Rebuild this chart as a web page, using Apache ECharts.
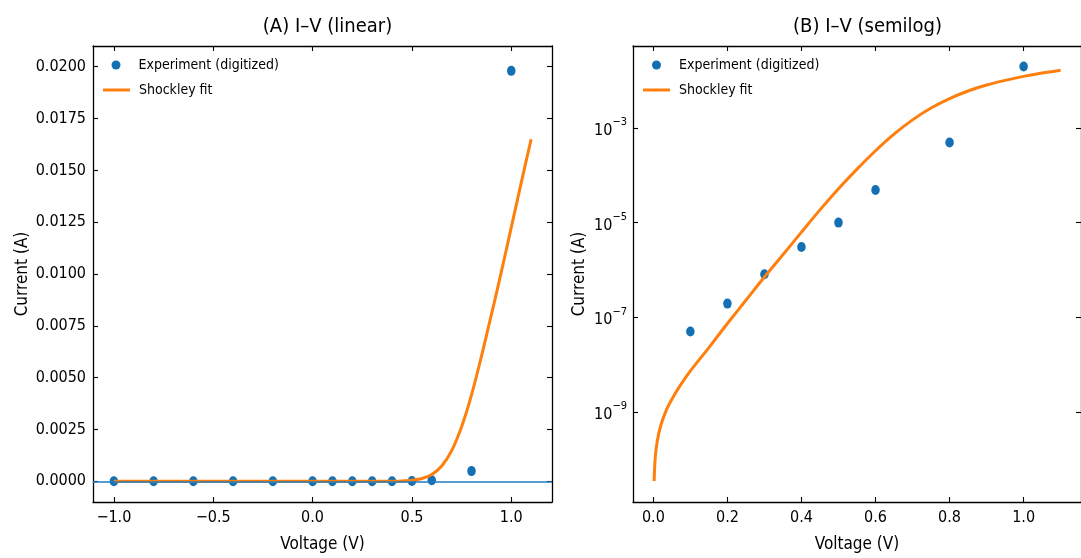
<!DOCTYPE html>
<html>
<head>
<meta charset="utf-8">
<script src="https://cdn.jsdelivr.net/npm/echarts@6/dist/echarts.min.js"></script>
<style>
  html, body { margin: 0; padding: 0; background: #fff; }
  #chart { width: 1081px; height: 558px; }
</style>
</head>
<body>
<div id="chart"></div>
<script>
// ---- data ----
const expV = [-1.0, -0.8, -0.6, -0.4, -0.2, 0.0, 0.1, 0.2, 0.3, 0.4, 0.5, 0.6, 0.8, 1.0];
const expI = [0, 0, 0, 0, 0, 0, 5.0e-8, 1.95e-7, 8.1e-7, 3.05e-6, 1.0e-5, 4.9e-5, 4.9e-4, 0.0198];

const fitV = [-1.0, -0.5, 0.0, 0.002, 0.005, 0.01, 0.02, 0.035, 0.05, 0.07, 0.1, 0.15, 0.2, 0.25,
  0.3, 0.35, 0.4, 0.45, 0.5, 0.55, 0.6, 0.65, 0.7, 0.75, 0.8, 0.85, 0.9, 0.95, 1.0, 1.05, 1.1];
const fitI = [-8e-10, -8e-10, 0, 3.5e-11, 1.07e-10, 2.3e-10, 5.2e-10, 1.1e-9, 1.86e-9, 3.4e-9, 7.4e-9, 2.3e-8, 7.4e-8, 2.3e-7,
  7.1e-7, 2.1e-6, 6.3e-6, 1.86e-5, 5.2e-5, 1.35e-4, 3.3e-4, 7.4e-4, 1.48e-3, 2.63e-3, 4.17e-3, 6.03e-3, 8.04e-3, 1.01e-2, 1.225e-2, 1.44e-2, 1.65e-2];

const linXTicks = [-1.0, -0.5, 0.0, 0.5, 1.0];
const linYTicks = [0, 0.0025, 0.005, 0.0075, 0.01, 0.0125, 0.015, 0.0175, 0.02];
const logXTicks = [0.0, 0.2, 0.4, 0.6, 0.8, 1.0];
const logYTicks = [1e-9, 1e-7, 1e-5, 1e-3];

const titles = ['(A) I\u2013V (linear)', '(B) I\u2013V (semilog)'];
const expName = 'Experiment (digitized)';
const fitName = 'Shockley fit';

// ---- styling ----
const FONT = '"DejaVu Sans Condensed", "DejaVu Sans", sans-serif';
const BLUE = '#1270b3';
const LINEBLUE = '#1f7bbf';
const ORANGE = '#ff7f0e';

const zip = (a, b) => a.map((v, i) => [v, b[i]]);
const linExp = zip(expV, expI);
const linFit = zip(fitV, fitI);
const logExp = linExp.filter(p => p[1] > 0);
const logFit = linFit.filter(p => p[0] > 0 && p[1] > 0);

const minus = s => s.replace('-', '\u2212');

function frameAxis(extra) {
  return Object.assign({
    axisLine: { show: true, onZero: false, lineStyle: { color: '#000', width: 1.3 } },
    splitLine: { show: false },
    nameTextStyle: { color: '#000', fontFamily: FONT, fontSize: 17 }
  }, extra);
}
function ticks(values) {
  return { show: true, inside: true, length: 5, customValues: values, lineStyle: { color: '#000', width: 1.1 } };
}
function labels(values, fmt, margin) {
  return { show: true, customValues: values, formatter: fmt, color: '#000', fontFamily: FONT, fontSize: 16, margin: margin };
}
const noLabels = { show: false };

const chart = echarts.init(document.getElementById('chart'), null, { renderer: 'canvas' });

const legendBase = {
  orient: 'vertical', padding: 0, selectedMode: false,
  textStyle: { color: '#000', fontFamily: FONT, fontSize: 14 }
};
function expLegend(left) {
  return Object.assign({}, legendBase, {
    data: [{ name: expName, icon: 'circle' }], left: left, top: 58, itemWidth: 9, itemHeight: 10,
    textStyle: Object.assign({}, legendBase.textStyle, { padding: [0, 0, 0, 13] })
  });
}
function fitLegend(left) {
  return Object.assign({}, legendBase, {
    data: [{ name: fitName, icon: 'rect' }], left: left, top: 83, itemWidth: 27, itemHeight: 3,
    textStyle: Object.assign({}, legendBase.textStyle, { padding: [0, 0, 0, 4] })
  });
}

chart.setOption({
  animation: false,
  backgroundColor: '#fff',
  title: [
    { text: titles[0], left: 322.5, textAlign: 'center', top: 12,
      textStyle: { fontFamily: FONT, fontSize: 20, fontWeight: 'normal', color: '#000' } },
    { text: titles[1], left: 862.5, textAlign: 'center', top: 12,
      textStyle: { fontFamily: FONT, fontSize: 20, fontWeight: 'normal', color: '#000' } }
  ],
  legend: [expLegend(111.5), fitLegend(103), expLegend(652), fitLegend(643)],
  grid: [
    { left: 93, top: 46, width: 459, height: 458, containLabel: false },
    { left: 633, top: 46, width: 459, height: 458, containLabel: false }
  ],
  xAxis: [
    frameAxis({ type: 'value', gridIndex: 0, position: 'bottom', min: -1.105, max: 1.205,
      axisTick: ticks(linXTicks), axisLabel: labels(linXTicks, v => minus(v.toFixed(1)), 8),
      name: 'Voltage (V)', nameLocation: 'middle', nameGap: 34 }),
    frameAxis({ type: 'value', gridIndex: 0, position: 'top', min: -1.105, max: 1.205,
      axisTick: ticks(linXTicks), axisLabel: noLabels }),
    frameAxis({ type: 'value', gridIndex: 1, position: 'bottom', min: -0.055, max: 1.155,
      axisTick: ticks(logXTicks), axisLabel: labels(logXTicks, v => v.toFixed(1), 8),
      name: 'Voltage (V)', nameLocation: 'middle', nameGap: 34 }),
    frameAxis({ type: 'value', gridIndex: 1, position: 'top', min: -0.055, max: 1.155,
      axisTick: ticks(logXTicks), axisLabel: noLabels })
  ],
  yAxis: [
    frameAxis({ type: 'value', gridIndex: 0, position: 'left', min: -0.001, max: 0.021,
      axisTick: ticks(linYTicks), axisLabel: labels(linYTicks, v => v.toFixed(4), 7),
      name: 'Current (A)', nameLocation: 'middle', nameGap: 62 }),
    frameAxis({ type: 'value', gridIndex: 0, position: 'right', min: -0.001, max: 0.021,
      axisTick: ticks(linYTicks), axisLabel: noLabels }),
    frameAxis({ type: 'log', logBase: 10, gridIndex: 1, position: 'left',
      min: Math.pow(10, -10.9), max: Math.pow(10, -1.27),
      axisTick: ticks(logYTicks), minorTick: { show: false },
      axisLabel: Object.assign(labels(logYTicks, v => {
        const e = Math.round(Math.log10(v));
        return '{b|10}{e|' + minus(String(e)) + '}';
      }, 6), {
        rich: {
          b: { fontFamily: FONT, fontSize: 16, color: '#000', lineHeight: 22, verticalAlign: 'bottom' },
          e: { fontFamily: FONT, fontSize: 11, color: '#000', lineHeight: 12, verticalAlign: 'top' }
        }
      }),
      name: 'Current (A)', nameLocation: 'middle', nameGap: 45 }),
    frameAxis({ type: 'log', logBase: 10, gridIndex: 1, position: 'right',
      min: Math.pow(10, -10.9), max: Math.pow(10, -1.27),
      axisTick: ticks(logYTicks), minorTick: { show: false }, axisLabel: noLabels })
  ],
  series: [
    { name: expName, type: 'scatter', xAxisIndex: 0, yAxisIndex: 0, data: linExp,
      symbol: 'circle', symbolSize: [8.5, 10], itemStyle: { color: BLUE, opacity: 1 }, z: 2 },
    { name: fitName, type: 'line', xAxisIndex: 0, yAxisIndex: 0, data: linFit,
      showSymbol: false, symbol: 'none', smooth: 0.3,
      lineStyle: { color: ORANGE, width: 3 }, itemStyle: { color: ORANGE }, z: 3 },
    { name: 'zero', type: 'line', xAxisIndex: 0, yAxisIndex: 0, data: [], z: 4,
      markLine: { silent: true, symbol: 'none', label: { show: false },
        lineStyle: { color: LINEBLUE, width: 1.5, type: 'solid' }, data: [{ yAxis: 0 }] } },
    { name: expName, type: 'scatter', xAxisIndex: 2, yAxisIndex: 2, data: logExp,
      symbol: 'circle', symbolSize: [8.5, 10], itemStyle: { color: BLUE, opacity: 1 }, z: 2 },
    { name: fitName, type: 'line', xAxisIndex: 2, yAxisIndex: 2, data: logFit,
      showSymbol: false, symbol: 'none', smooth: 0.3,
      lineStyle: { color: ORANGE, width: 3 }, itemStyle: { color: ORANGE }, z: 3 }
  ]
});
</script>
</body>
</html>
